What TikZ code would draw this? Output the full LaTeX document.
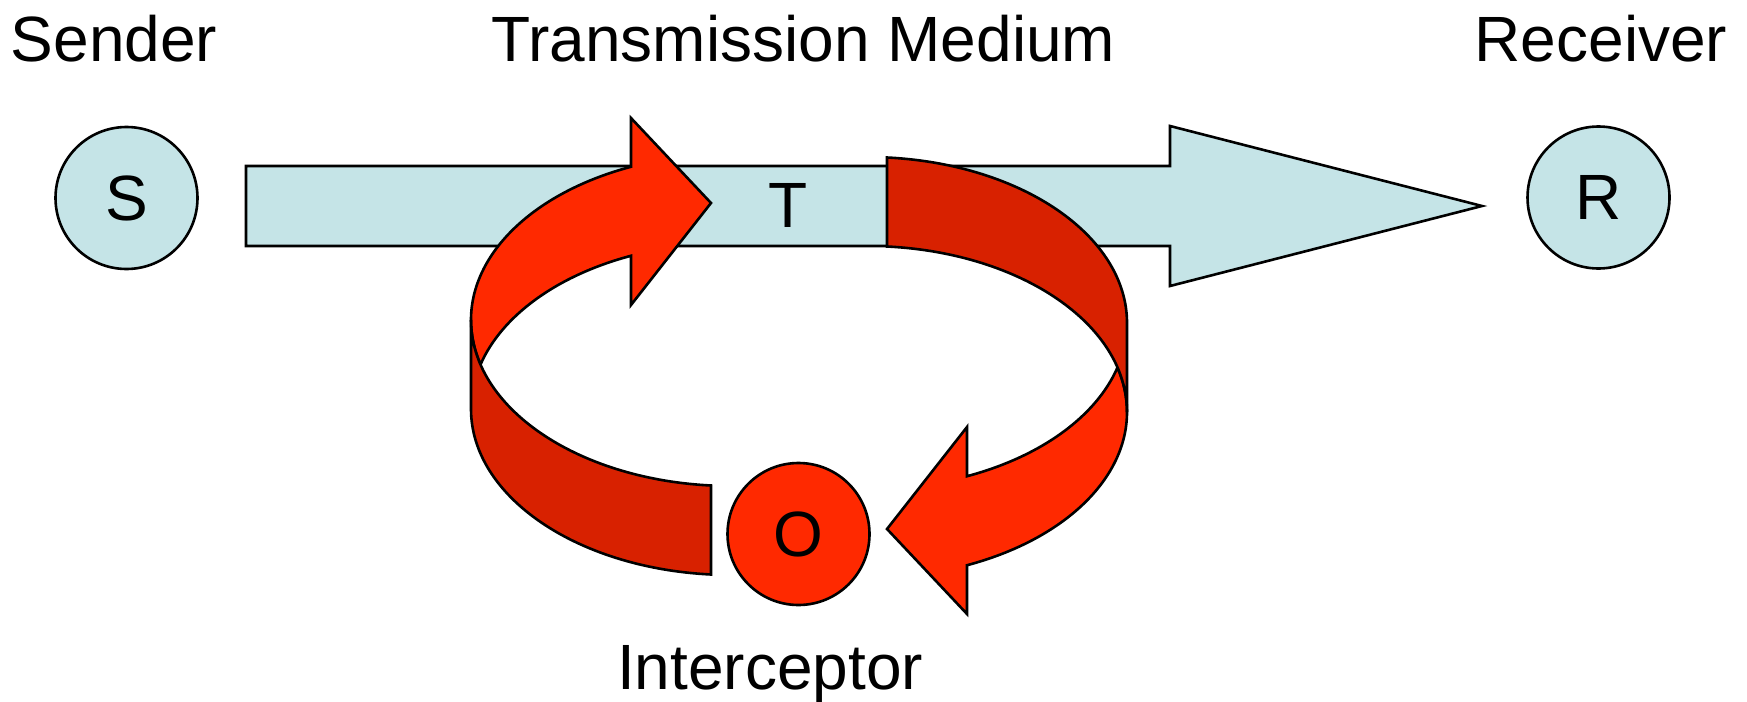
\documentclass[tikz,border=0pt]{standalone}
\usepackage{fontspec}
\setmainfont{Liberation Sans}
\usetikzlibrary{calc}

\definecolor{paleblue}{RGB}{197,228,231}
\definecolor{ribbonlight}{RGB}{255,41,0}
\definecolor{ribbondark}{RGB}{216,33,0}

\newcommand{\bigsans}{\fontsize{64}{76}\selectfont}

% One half of the twisted ribbon: the bent arrow on the back face
% and the plain band on the front face (ellipses 260 x 166, height 89).
\newcommand{\ribbonhalf}{%
  \filldraw[ribbon, fill=ribbonlight]
    (471,-320) arc[start angle=180, end angle=195.55, x radius=260pt, y radius=166pt]
    arc[start angle=164.45, end angle=112.62, x radius=260pt, y radius=166pt]
    -- (631,-305) -- (711,-203) -- (631,-118) -- (631,-166.77)
    arc[start angle=112.62, end angle=180, x radius=260pt, y radius=166pt]
    -- cycle;
  \filldraw[ribbon, fill=ribbondark]
    (471,-320) arc[start angle=180, end angle=265.59, x radius=260pt, y radius=166pt]
    -- ++(0,-89)
    arc[start angle=265.59, end angle=180, x radius=260pt, y radius=166pt]
    -- cycle;
}

\tikzset{
  outline/.style={draw=black, line width=2.6pt, line join=miter},
  ribbon/.style={outline},
  station/.style={circle, outline, minimum size=142pt, inner sep=0pt, font=\bigsans},
  caption/.style={font=\bigsans, inner sep=0pt, anchor=base},
}

\begin{document}
\begin{tikzpicture}[x=1pt, y=1pt]
  \useasboundingbox (0,0) rectangle (1747,-701);

  % transmission medium: wide block arrow
  \coordinate (barTail) at (246,-206);
  \coordinate (barTip) at (1482,-206);
  \filldraw[outline, fill=paleblue]
    (246,-166) -- (1170,-166) -- (1170,-126) -- (barTip)
    -- (1170,-286) -- (1170,-246) -- (246,-246) -- cycle;
  \node[font=\bigsans, inner sep=0pt] (T) at (788.5,-205) {T};

  % interception loop, point-symmetric about its centre
  \coordinate (loopCentre) at (799,-366);
  \ribbonhalf
  \begin{scope}[rotate around={180:(loopCentre)}]
    \ribbonhalf
  \end{scope}

  % parties
  \node[station, fill=paleblue] (S) at (126.5,-198) {S};
  \node[station, fill=paleblue] (R) at (1598.5,-197.5) {R};
  \node[station, fill=ribbonlight] (O) at (798.5,-534) {O};

  % captions
  \node[caption] (sender) at (114,-62) {Sender};
  \node[caption] (medium) at (803.5,-61) {Transmission Medium};
  \node[caption] (receiver) at (1601,-61) {Receiver};
  \node[caption] (interceptor) at (770,-689) {Interceptor};
\end{tikzpicture}
\end{document}
